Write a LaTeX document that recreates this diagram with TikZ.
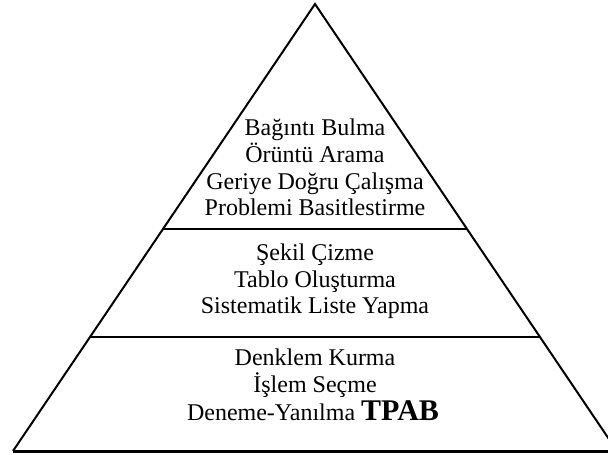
\documentclass[tikz,border=0pt]{standalone}
\usepackage{fontspec}
\setmainfont{Liberation Serif}
\usetikzlibrary{calc}
\tikzset{
  edge/.style={line width=2pt, line join=miter},
  ln/.style={anchor=base, inner sep=0pt, font=\fontsize{24}{28}\selectfont}
}
\begin{document}
\begin{tikzpicture}[x=1pt,y=-1pt]
\useasboundingbox (0,0) rectangle (608,455);
\clip (0,0) rectangle (608,455);
\fill[white] (0,0) rectangle (608,455);
\coordinate (A) at (315,4);
\coordinate (L) at (13,451);
\coordinate (R) at (617,451);
\coordinate (L1) at ($(L)!0.4966!(A)$);
\coordinate (R1) at ($(R)!0.4966!(A)$);
\coordinate (L2) at ($(L)!0.255!(A)$);
\coordinate (R2) at ($(R)!0.255!(A)$);
\draw[edge] (L) -- (A) -- (R);
\draw[line width=3pt] (L) -- (R);
\draw[edge] (L1) -- (R1);
\draw[edge] (L2) -- (R2);
\node[ln] (t1) at (315,135) {Bağıntı Bulma};
\node[ln] (t2) at (315,162) {Örüntü Arama};
\node[ln] (t3) at (315,189) {Geriye Doğru Çalışma};
\node[ln] (t4) at (315,215) {Problemi Basitlestirme};
\node[ln] (m1) at (315,260) {Şekil Çizme};
\node[ln] (m2) at (315,287) {Tablo Oluşturma};
\node[ln] (m3) at (315,313) {Sistematik Liste Yapma};
\node[ln] (b1) at (315,365) {Denklem Kurma};
\node[ln] (b2) at (315,392) {İşlem Seçme};
\node[ln] (b3) at (313,420) {Deneme-Yanılma {\fontsize{30}{30}\selectfont\bfseries TPAB}};
\end{tikzpicture}
\end{document}
